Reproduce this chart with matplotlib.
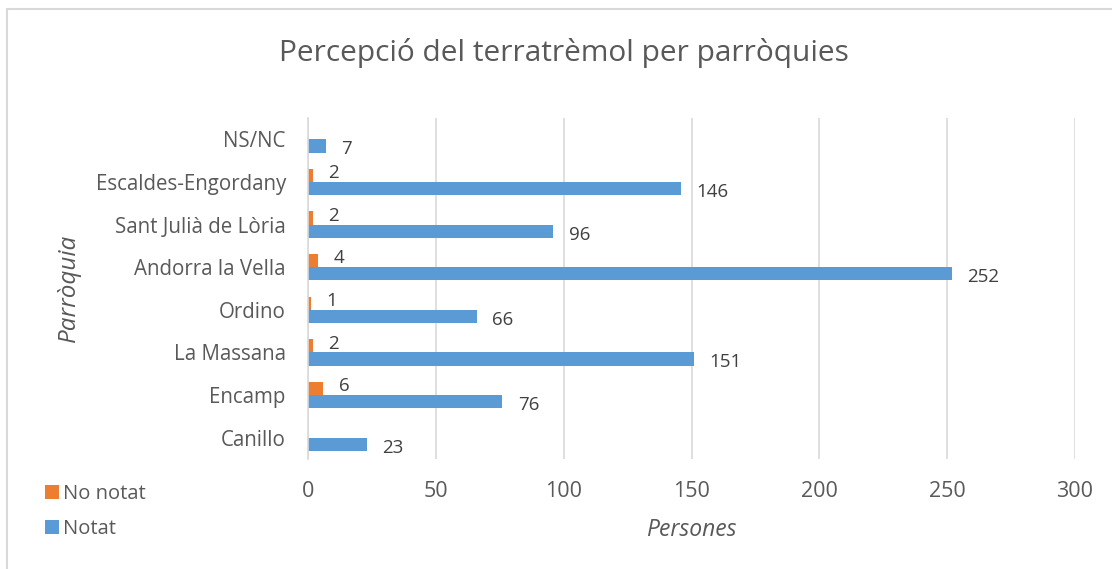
import matplotlib
matplotlib.use("Agg")
import matplotlib.pyplot as plt
import numpy as np
from matplotlib.patches import Rectangle

categories = ["Canillo", "Encamp", "La Massana", "Ordino", "Andorra la Vella",
              "Sant Julià de Lòria", "Escaldes-Engordany", "NS/NC"]
notat = [23, 76, 151, 66, 252, 96, 146, 7]
no_notat = [np.nan, 6, 2, 1, 4, 2, 2, np.nan]
xticks = [0, 50, 100, 150, 200, 250, 300]

FONT = "Open Sans"
TXT = "#595959"
BLUE = "#5B9BD5"
ORANGE = "#ED7D31"

plt.rcParams['font.family'] = [FONT, 'DejaVu Sans']

W, H = 1112, 569
fig = plt.figure(figsize=(W/100, H/100), dpi=100)
fig.patch.set_facecolor("white")

# chart border (only top/left visible)
fig.add_artist(Rectangle((7/W, -0.05), 1.2, 1 - 9/H + 0.05, transform=fig.transFigure,
                         fill=False, edgecolor="#D9D9D9", linewidth=1.5))

ax = fig.add_axes([308/W, 1 - 459/H, (1075-308)/W, (459-118)/H])
y = np.arange(len(categories))
h = 0.31
ax.barh(y - h/2, notat, height=h, color=BLUE, label="Notat", zorder=3)
ax.barh(y + h/2, no_notat, height=h, color=ORANGE, label="No notat", zorder=3)

for yi, v in zip(y, notat):
    ax.text(v + 6.0, yi - h/2 - 0.08, str(v), va="center", ha="left", fontsize=13.5, color="#404040")
for yi, v in zip(y, no_notat):
    if not np.isnan(v):
        ax.text(v + 6.0, yi + h/2 + 0.05, str(int(v)), va="center", ha="left", fontsize=13.5, color="#404040")

ax.set_xlim(0, 300)
ax.set_ylim(-0.5, len(categories) - 0.5)
ax.set_xticks(xticks)
ax.set_xticklabels([str(t) for t in xticks])
ax.set_yticks(y)
ax.set_yticklabels(categories)
ax.tick_params(axis="both", length=0, labelcolor=TXT)
ax.tick_params(axis="x", pad=16, labelsize=15.5)
ax.tick_params(axis="y", pad=16, labelsize=14.8)
ax.grid(axis="x", color="#D9D9D9", linewidth=1.2, zorder=0)
for s in ["top", "right", "bottom"]:
    ax.spines[s].set_visible(False)
ax.spines["left"].set_color("#D9D9D9")
ax.spines["left"].set_linewidth(1.2)
ax.spines["left"].set_zorder(4)

ax.set_xlabel("Persones", fontsize=16.5, color=TXT, style="italic", labelpad=11)
fig.text(69/W, 1 - 288/H, "Parròquia", rotation=90, fontsize=17.5, color=TXT, style="italic",
         ha="center", va="center")

fig.text(564/W, 1 - 53/H, "Percepció del terratrèmol per parròquies", fontsize=21.5,
         color=TXT, ha="center", va="center")

handles, labels = ax.get_legend_handles_labels()
leg = fig.legend(handles[::-1], labels[::-1], loc="upper left", bbox_to_anchor=(27/W, 1 - 466/H),
                 frameon=False, fontsize=14.5, handlelength=0.7, handleheight=0.7,
                 handletextpad=0.2, labelspacing=0.75, labelcolor=TXT)

fig.savefig("out.png", dpi=100, facecolor="white")
